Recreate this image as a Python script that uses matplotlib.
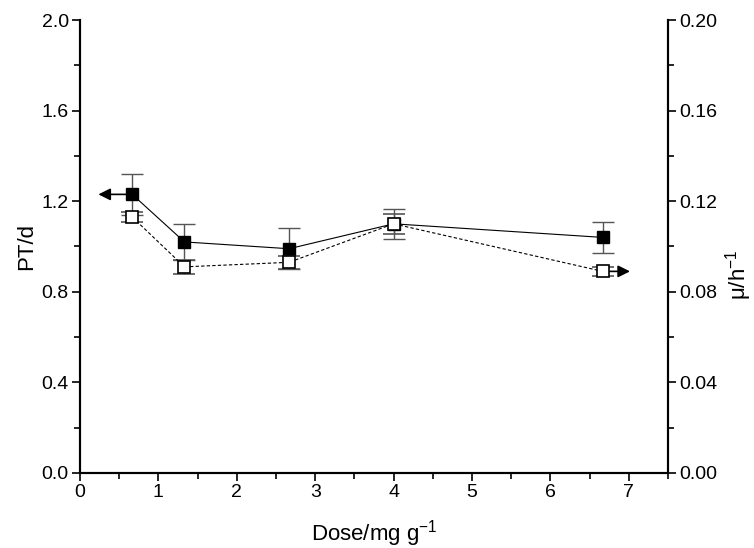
import numpy as np
import matplotlib
matplotlib.use('Agg')
import matplotlib.pyplot as plt
from matplotlib.ticker import MultipleLocator, FormatStrFormatter

plt.rcParams['font.family'] = ['Liberation Sans', 'DejaVu Sans']

dose = [0.667, 1.333, 2.667, 4.0, 6.667]
pt = [1.23, 1.02, 0.99, 1.10, 1.04]
pt_err = [0.09, 0.08, 0.09, 0.065, 0.07]
mu = [0.113, 0.091, 0.093, 0.110, 0.089]
mu_err = [0.002, 0.003, 0.003, 0.0045, 0.002]

fig = plt.figure(figsize=(7.54, 5.48), dpi=100)
ax = fig.add_axes([0.106, 0.137, 0.78, 0.8265])
ax2 = ax.twinx()

ax.errorbar(dose, pt, yerr=pt_err, fmt='s-', color='black', mfc='black', mec='black',
            ms=8, lw=0.8, ecolor='#555555', elinewidth=1.0, capsize=8, capthick=1.0, zorder=3)
ax2.errorbar(dose, mu, yerr=mu_err, fmt='s--', color='black', mfc='white', mec='black',
             ms=8, mew=1.2, lw=0.8, dashes=(3, 2), ecolor='#555555', elinewidth=1.0,
             capsize=8, capthick=1.0, zorder=3)

# arrows showing which axis each series belongs to
ax.annotate('', xy=(0.2, pt[0]), xytext=(dose[0], pt[0]),
            arrowprops=dict(arrowstyle='-|>', color='black', lw=1.2, mutation_scale=18))
ax2.annotate('', xy=(7.05, mu[-1]), xytext=(dose[-1], mu[-1]),
             arrowprops=dict(arrowstyle='-|>', color='black', lw=1.2, mutation_scale=18))

ax.set_xlim(0, 7.5)
ax.set_ylim(0, 2.0)
ax2.set_ylim(0, 0.2)

ax.xaxis.set_major_locator(MultipleLocator(1))
ax.xaxis.set_minor_locator(MultipleLocator(0.5))
ax.yaxis.set_major_locator(MultipleLocator(0.4))
ax.yaxis.set_minor_locator(MultipleLocator(0.2))
ax.yaxis.set_major_formatter(FormatStrFormatter('%.1f'))
ax2.yaxis.set_major_locator(MultipleLocator(0.04))
ax2.yaxis.set_minor_locator(MultipleLocator(0.02))
ax2.yaxis.set_major_formatter(FormatStrFormatter('%.2f'))

for a in (ax, ax2):
    a.spines['top'].set_visible(False)
    for s in a.spines.values():
        s.set_linewidth(1.5)
    a.tick_params(which='major', direction='out', length=6, width=1.2, labelsize=14, pad=2)
    a.tick_params(which='minor', direction='out', length=4, width=1.2)

ax.set_xlabel('Dose/mg g$^{\\mathregular{-1}}$', fontsize=16, labelpad=12)
ax.set_ylabel('PT/d', fontsize=16)
ax.yaxis.set_label_coords(-0.072, 0.5)
ax2.set_ylabel('μ/h$^{\\mathregular{-1}}$', fontsize=16)
ax2.yaxis.set_label_coords(1.094, 0.437)

fig.savefig('out.png', dpi=100)
